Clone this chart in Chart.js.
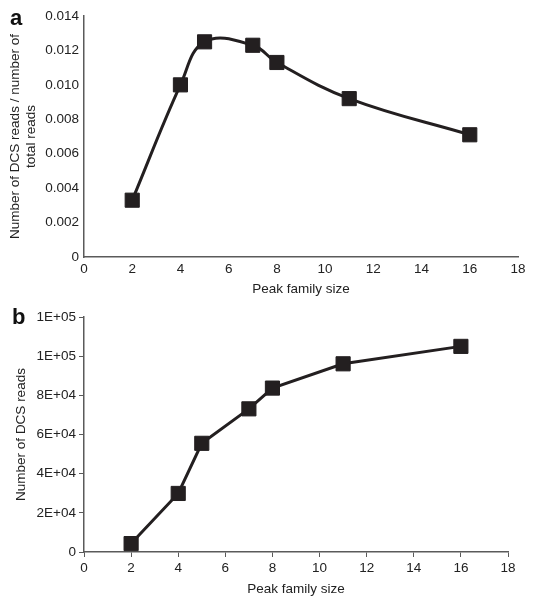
<!DOCTYPE html>
<html>
<head>
<meta charset="utf-8">
<script src="https://cdn.jsdelivr.net/npm/chart.js@4.4.1/dist/chart.umd.min.js"></script>
<style>
  body { margin: 0; background: #fff; width: 535px; height: 600px; position: relative; overflow: hidden; }
  .box { position: absolute; left: 0; width: 535px; height: 300px; }
  .panel { position: absolute; font: bold 22px "Liberation Sans", Arial, sans-serif; color: #111; }
</style>
</head>
<body>
<div class="box" style="top:0"><canvas id="chartA"></canvas></div>
<div class="box" style="top:300px"><canvas id="chartB"></canvas></div>
<div class="panel" style="left:10px;top:5px">a</div>
<div class="panel" style="left:12px;top:304px">b</div>
<script>
// peak family size (x) shared by both panels
const familySize = [2, 4, 5, 7, 8, 11, 16];
// panel a: DCS reads / total reads
const dcsFraction = [0.0033, 0.0100, 0.0125, 0.0123, 0.0113, 0.0092, 0.0071];
// panel b: number of DCS reads
const dcsReads = [4300, 29900, 55500, 73100, 83700, 96100, 105000];

const ink = '#231f20';
const axisGrey = '#5a5a5a';
const font = { family: '"Liberation Sans", Arial, sans-serif', size: 13.5 };

const toPoints = (ys) => familySize.map((x, i) => ({ x: x, y: ys[i] }));

// Excel style "1E+05"
const sci = (v) => {
  if (v === 0) return '0';
  const e = Math.floor(Math.log10(v));
  const m = Math.round(v / Math.pow(10, e));
  return m + 'E+' + String(e).padStart(2, '0');
};

const makeChart = (el, opts) => new Chart(el, {
  type: 'line',
  data: {
    datasets: [{
      data: toPoints(opts.values),
      borderColor: ink,
      borderWidth: 3,
      backgroundColor: ink,
      pointStyle: 'rect',
      pointRadius: 10,
      pointBorderWidth: 1,
      pointBorderColor: ink,
      pointBackgroundColor: ink,
      tension: opts.tension
    }]
  },
  options: {
    responsive: true,
    maintainAspectRatio: false,
    animation: false,
    events: [],
    layout: { padding: opts.padding },
    plugins: { legend: { display: false }, tooltip: { enabled: false } },
    scales: {
      x: {
        type: 'linear',
        min: 0, max: 18,
        afterFit: (s) => { s.height = opts.xHeight; },
        ticks: { stepSize: 2, color: '#222', font: font, padding: opts.xPad, maxRotation: 0 },
        grid: { display: opts.ticks, drawOnChartArea: false, drawTicks: opts.ticks, tickLength: 5, color: axisGrey },
        border: { color: axisGrey, width: 1.5 },
        title: { display: true, text: 'Peak family size', color: '#222', font: font, padding: { top: 0, bottom: 3 } }
      },
      y: {
        min: 0, max: opts.yMax,
        afterFit: (s) => { s.width = 84; },
        ticks: { stepSize: opts.yStep, color: '#222', font: font, padding: opts.yPad, callback: opts.fmt },
        grid: { display: opts.ticks, drawOnChartArea: false, drawTicks: opts.ticks, tickLength: 5, color: axisGrey },
        border: { color: axisGrey, width: 1.5 },
        title: { display: true, text: opts.yTitle, color: '#222', font: font, padding: { top: opts.yTitlePad, bottom: 0 } }
      }
    }
  }
});

makeChart(document.getElementById('chartA'), {
  values: dcsFraction,
  tension: 0.4,
  padding: { left: 0, top: 16, right: 17, bottom: 0 },
  xHeight: 43,
  xPad: 4,
  yPad: 5,
  ticks: false,
  yMax: 0.014,
  yStep: 0.002,
  fmt: (v) => v === 0 ? '0' : v.toFixed(3),
  yTitle: ['Number of DCS reads / number of', 'total reads'],
  yTitlePad: 7
});

makeChart(document.getElementById('chartB'), {
  values: dcsReads,
  tension: 0,
  padding: { left: 0, top: 17, right: 27, bottom: 0 },
  xHeight: 48,
  xPad: 3,
  yPad: 3,
  ticks: true,
  yMax: 120000,
  yStep: 20000,
  fmt: sci,
  yTitle: 'Number of DCS reads',
  yTitlePad: 13
});
</script>
</body>
</html>
